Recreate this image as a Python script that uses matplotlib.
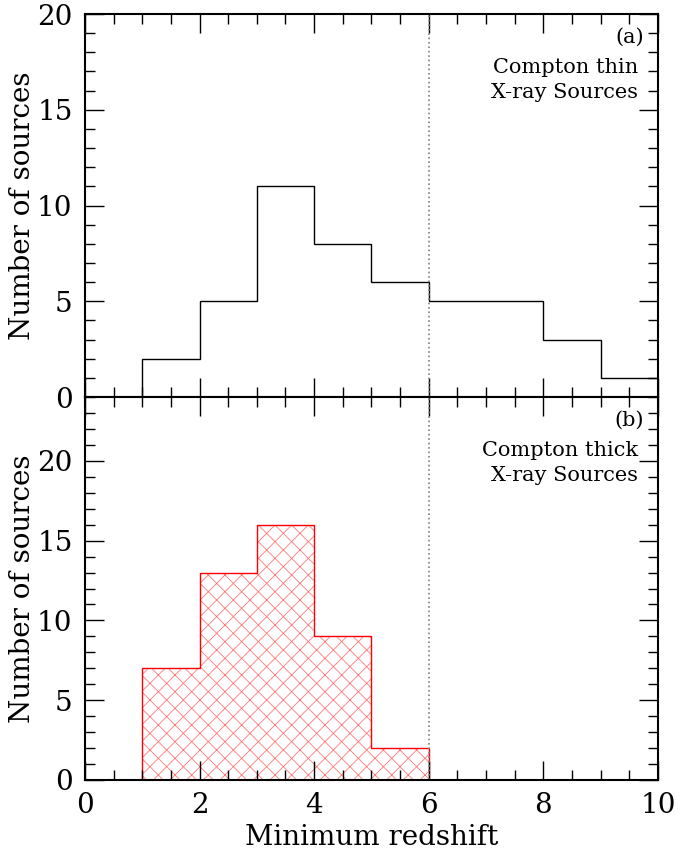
import matplotlib
matplotlib.use("Agg")
import matplotlib.pyplot as plt
from matplotlib.ticker import MultipleLocator

# histogram bins (minimum redshift) and counts
bin_edges = [1, 2, 3, 4, 5, 6, 7, 8, 9, 10]
thin_counts = [2, 5, 11, 8, 6, 5, 5, 3, 1]
thick_edges = [1, 2, 3, 4, 5, 6]
thick_counts = [7, 13, 16, 9, 2]

plt.rcParams["font.family"] = ["DejaVu Serif"]
plt.rcParams["hatch.linewidth"] = 0.6

fig = plt.figure(figsize=(6.91, 8.56), dpi=100)
ax1 = fig.add_axes([0.123, 0.5362, 0.829, 0.4474])
ax2 = fig.add_axes([0.123, 0.0888, 0.829, 0.4474], sharex=ax1)

ax1.stairs(thin_counts, bin_edges, color="black", linewidth=1.0, baseline=0)

ax2.stairs(thick_counts, thick_edges, fill=True, facecolor="none",
           edgecolor="#ff7a7a", hatch="xx", linewidth=0)
ax2.stairs(thick_counts, thick_edges, color="red", linewidth=1.0, baseline=0)

for ax in (ax1, ax2):
    ax.axvline(6, color="gray", linestyle=":", linewidth=1.2)
    ax.set_xlim(0, 10)
    ax.xaxis.set_major_locator(MultipleLocator(2))
    ax.xaxis.set_minor_locator(MultipleLocator(0.5))
    ax.tick_params(which="both", direction="in", top=True, right=True,
                   width=1.0, labelsize=20, pad=9)
    ax.tick_params(which="major", length=14)
    ax.tick_params(which="minor", length=7)
    for s in ax.spines.values():
        s.set_linewidth(1.5)
    ax.set_ylabel("Number of sources", fontsize=20, labelpad=1)

ax1.set_ylim(0, 20)
ax1.yaxis.set_major_locator(MultipleLocator(5))
ax1.yaxis.set_minor_locator(MultipleLocator(1))
ax1.tick_params(labelbottom=False)

ax2.set_ylim(0, 24)
ax2.yaxis.set_major_locator(MultipleLocator(5))
ax2.yaxis.set_minor_locator(MultipleLocator(1))
ax2.set_xlabel("Minimum redshift", fontsize=20, labelpad=3)

ax1.text(0.975, 0.965, "(a)", transform=ax1.transAxes, ha="right", va="top", fontsize=15)
ax1.text(0.965, 0.885, "Compton thin\nX-ray Sources", transform=ax1.transAxes,
         ha="right", va="top", fontsize=15, linespacing=1.4)
ax2.text(0.975, 0.965, "(b)", transform=ax2.transAxes, ha="right", va="top", fontsize=15)
ax2.text(0.965, 0.885, "Compton thick\nX-ray Sources", transform=ax2.transAxes,
         ha="right", va="top", fontsize=15, linespacing=1.4)

fig.savefig("out.png", dpi=100)
plt.close(fig)
